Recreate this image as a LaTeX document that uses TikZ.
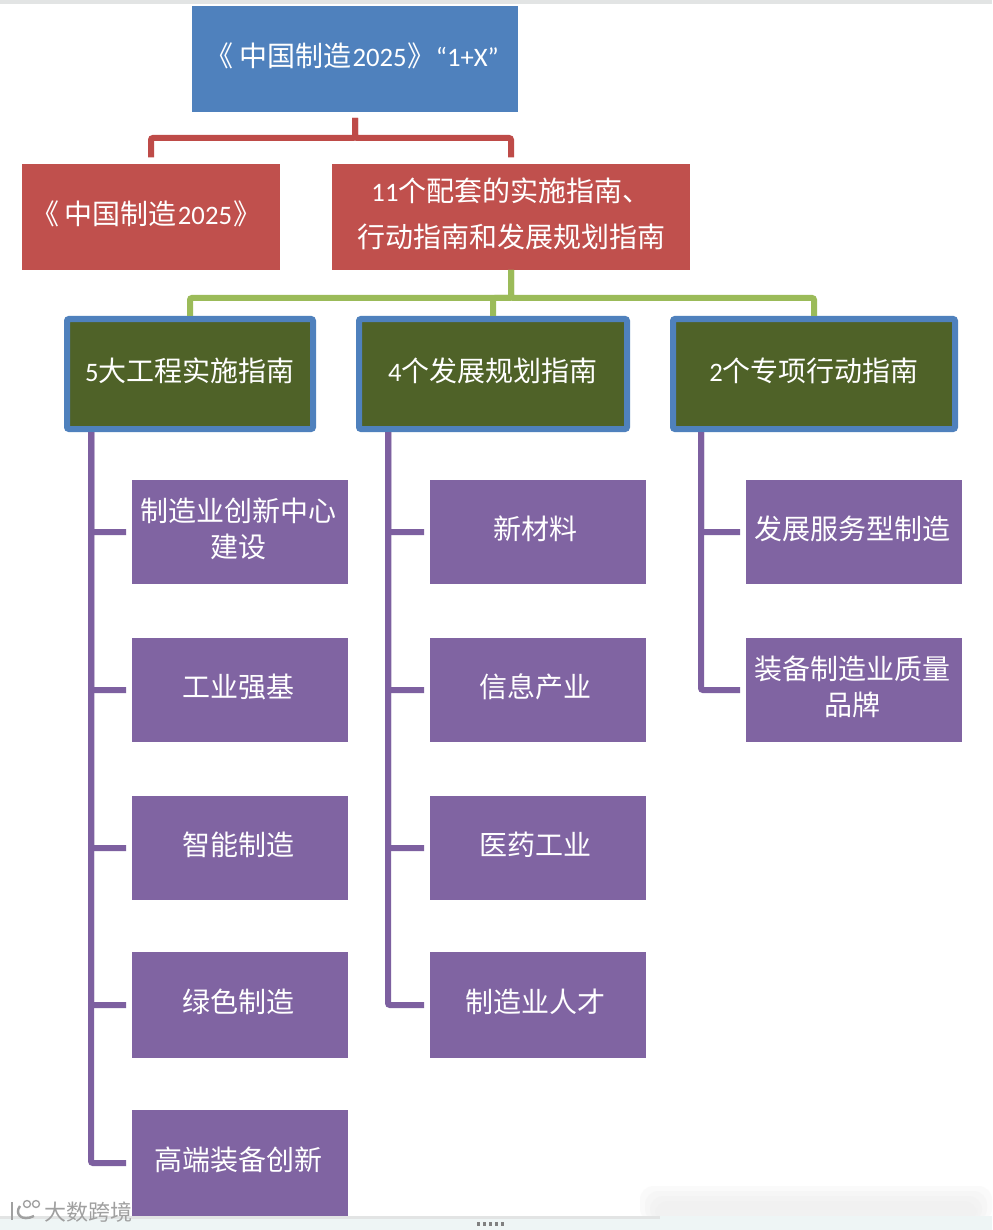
\documentclass[tikz,border=0pt]{standalone}
\usepackage{fontspec}
\setmainfont{Noto Sans CJK SC}
\newfontfamily\latinface{Carlito}
\newcommand{\lat}[1]{{\latinface\fontsize{20}{26}\selectfont #1}}
\newcommand{\up}[2][0pt]{\raisebox{2.25pt}[\height][\depth]{#2\kern#1}}
\newcommand{\openbk}{\kern-4pt《\kern4pt}
\begin{document}
\begin{tikzpicture}[x=0.75pt,y=-0.75pt,
  boxtext/.style={text=white,font=\fontsize{21}{27}\selectfont,align=center,inner sep=0pt,outer sep=0pt},
  rootbox/.style={boxtext,fill=rootblue,minimum width=244.5pt,minimum height=79.5pt},
  redbox/.style={boxtext,fill=boxred,minimum height=79.5pt},
  olivebox/.style={boxtext,fill=boxolive,draw=rootblue,line width=4.5pt,rounded corners=1.5pt,minimum height=82.5pt,outer sep=auto},
  purplebox/.style={boxtext,fill=boxpurple,minimum width=162pt,minimum height=78pt},
  redline/.style={draw=linered,line width=4.5pt,shorten <=4.5pt,shorten >=5pt,rounded corners=1.5pt},
  greenline/.style={draw=linegreen,line width=4.5pt,rounded corners=1.5pt},
  purpleline/.style={draw=linepurple,line width=4.5pt,shorten >=4.5pt,rounded corners=1.5pt},
  wmark/.style={text=wmgray,font=\fontsize{16.5}{20}\selectfont,inner sep=0pt}
]
\definecolor{rootblue}{HTML}{4F81BD}
\definecolor{boxred}{HTML}{C0504D}
\definecolor{boxolive}{HTML}{4F6228}
\definecolor{boxpurple}{HTML}{8064A2}
\definecolor{linered}{HTML}{BE4B48}
\definecolor{linegreen}{HTML}{9BBB59}
\definecolor{linepurple}{HTML}{7D60A0}
\definecolor{wmgray}{HTML}{A0A0A0}
\definecolor{stripgray}{HTML}{E2E4E4}
\definecolor{stripbottom}{HTML}{EEF5F5}
\definecolor{smudge}{HTML}{E8E8E8}
\useasboundingbox (0,0) rectangle (992,1230);
\fill[white] (0,0) rectangle (992,1230);
\fill[stripgray] (0,0) rectangle (992,4);
\foreach \d in {0,5,10,15} \fill[smudge,opacity=0.18,rounded corners=10pt] (640+\d,1186+\d) rectangle (992-\d,1222);
\fill[stripbottom] (0,1216) rectangle (992,1230);
\fill[stripgray] (0,1216) rectangle (660,1219);
% boxes
\node[rootbox] (root) at (355,59) {\up{\openbk 中国制造\kern1pt\lat{2025}\kern1pt》\lat{“1+X”}}};
\node[redbox,minimum width=193.5pt] (plan) at (151,217) {\up[3pt]{\openbk 中国制造\kern1pt\lat{2025}\kern1pt》}};
\node[redbox,minimum width=268.5pt] (guides) at (511,217) {\up{\lat{11}个配套的实施指南、}\\[7.5pt]\up{行动指南和发展规划指南}};
\node[olivebox,minimum width=184.5pt] (g1) at (190,374) {\up{\lat{5}大工程实施指南}};
\node[olivebox,minimum width=201pt] (g2) at (493,374) {\up{\lat{4}个发展规划指南}};
\node[olivebox,minimum width=211.5pt] (g3) at (814,374) {\up{\lat{2}个专项行动指南}};
\node[purplebox] (a1) at (240,532) {\up[2pt]{制造业创新中心}\\\up[2pt]{建设}};
\node[purplebox] (a2) at (240,690) {\up[2pt]{工业强基}};
\node[purplebox] (a3) at (240,848) {\up[2pt]{智能制造}};
\node[purplebox,minimum height=79.5pt] (a4) at (240,1005) {\up[2pt]{绿色制造}};
\node[purplebox,minimum height=79.5pt] (a5) at (240,1163) {\up[2pt]{高端装备创新}};
\node[purplebox] (b1) at (538,532) {\up[4.5pt]{新材料}};
\node[purplebox] (b2) at (538,690) {\up[4.5pt]{信息产业}};
\node[purplebox] (b3) at (538,848) {\up[4.5pt]{医药工业}};
\node[purplebox,minimum height=79.5pt] (b4) at (538,1005) {\up[4.5pt]{制造业人才}};
\node[purplebox] (c1) at (854,532) {\up[2pt]{发展服务型制造}};
\node[purplebox] (c2) at (854,690) {\up[2pt]{装备制造业质量}\\\up[2pt]{品牌}};
% connector helpers
\coordinate (busR) at (355,138);
\coordinate (busG) at (511,298);
\coordinate (k1) at (91,432);
\coordinate (k2) at (388,432);
\coordinate (k3) at (701,432);
% red connectors
\draw[redline] (root.south) -- (busR) -| (plan.north);
\draw[redline] (root.south) -- (busR) -| (guides.north);
% green connectors
\draw[greenline] (guides.south) -- (busG) -| (g1.north);
\draw[greenline] (guides.south) -- (busG) -| (g3.north);
\draw[greenline] (busG) -| (g2.north);
% purple connectors
\foreach \n in {a1,a2,a3,a4,a5} \draw[purpleline] (g1.south -| k1) |- (\n.west);
\foreach \n in {b1,b2,b3,b4} \draw[purpleline] (g2.south -| k2) |- (\n.west);
\foreach \n in {c1,c2} \draw[purpleline] (g3.south -| k3) |- (\n.west);
% watermark
\node[wmark] (wm) at (88,1212) {大数跨境};
\draw[wmgray,line width=1.8pt] (12,1202) -- (12,1220);
\draw[wmgray,line width=1.8pt] (20,1206) .. controls (14,1214) and (22,1222) .. (34,1216);
\draw[wmgray,line width=1pt] (27,1204) circle (3.5) (36,1204) circle (3.5);
% bottom dots
\foreach \i in {477,483,489,495,501} \fill[gray] (\i,1222) rectangle (\i+3,1226);
\end{tikzpicture}
\end{document}
